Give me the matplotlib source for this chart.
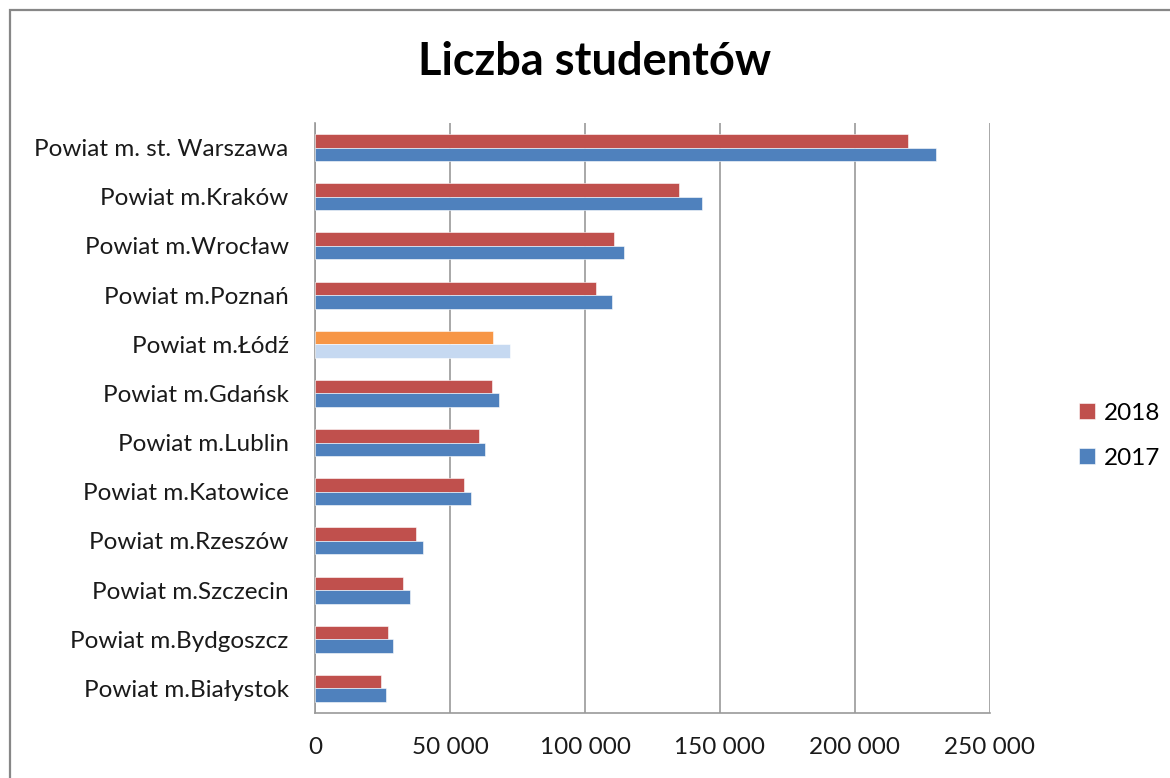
#!/usr/bin/python3
#
# Liczba studentow - horizontal bar chart, 2017 vs 2018
#

import matplotlib.pyplot as plt
import matplotlib.patches as patches
import numpy

plt.rcParams['font.family'] = ['Lato', 'DejaVu Sans']

# data (top to bottom as in the picture)
cities = ['Powiat m. st. Warszawa', 'Powiat m.Kraków', 'Powiat m.Wrocław',
          'Powiat m.Poznań', 'Powiat m.Łódź', 'Powiat m.Gdańsk',
          'Powiat m.Lublin', 'Powiat m.Katowice', 'Powiat m.Rzeszów',
          'Powiat m.Szczecin', 'Powiat m.Bydgoszcz', 'Powiat m.Białystok']
students_2018 = [219500, 134800, 110700, 104000, 66000, 65600,
                 60700, 55200, 37400, 32600, 26900, 24600]
students_2017 = [230100, 143300, 114400, 110000, 72200, 68300,
                 63000, 57800, 40000, 35200, 28900, 26400]
xticks = [0, 50000, 100000, 150000, 200000, 250000]
highlight = 'Powiat m.Łódź'

# colours
red, blue = '#C0504D', '#4F81BD'
orange, lightblue = '#F79646', '#C6D9F1'
grid_col = '#9A9A9A'
text_col = '#1a1a1a'

fig = plt.figure(figsize=(11.7, 7.78), dpi=100)
ax = fig.add_axes([315 / 1170, 65 / 778, 675 / 1170, 590 / 778])

# outer chart frame (cropped at right/bottom)
frame = patches.Rectangle((10 / 1170, -0.1), 1.2, 1 - 10 / 778 + 0.1,
                          transform=fig.transFigure, fill=False,
                          edgecolor='#878787', linewidth=1.6, zorder=0)
fig.patches.append(frame)

y = numpy.arange(len(cities))
h = 0.275
c18 = [orange if c == highlight else red for c in cities]
c17 = [lightblue if c == highlight else blue for c in cities]

ax.barh(y - h / 2, students_2018, height=h, color=c18, label='2018',
        edgecolor='white', linewidth=0.4, zorder=3)
ax.barh(y + h / 2, students_2017, height=h, color=c17, label='2017',
        edgecolor='white', linewidth=0.4, zorder=3)

ax.set_ylim(len(cities) - 0.5, -0.5)
ax.set_xlim(0, 250000)
ax.set_yticks(y)
ax.set_yticklabels(cities, fontsize=17.5, color=text_col)
ax.set_xticks(xticks)
ax.set_xticklabels(['0' if v == 0 else f'{v:,}'.replace(',', ' ') for v in xticks],
                   fontsize=17.5, color=text_col)
ax.tick_params(axis='y', length=0, pad=19)
ax.tick_params(axis='x', length=0, pad=17)

# grid and spines
ax.grid(axis='x', color=grid_col, linewidth=1.2, zorder=0)
for s in ['top', 'right']:
    ax.spines[s].set_visible(False)
for s in ['left', 'bottom']:
    ax.spines[s].set_color(grid_col)
    ax.spines[s].set_linewidth(1.2)

# title
fig.text(595 / 1170, 1 - 62 / 778, 'Liczba studentów', fontsize=32.5,
         fontweight='bold', ha='center', va='center')

# legend
leg = ax.legend(loc='center left', bbox_to_anchor=(1.1, 0.47), frameon=False,
                fontsize=17.5, handlelength=0.65, handleheight=0.65,
                handletextpad=0.35, labelspacing=1.0)

plt.savefig('out.png', dpi=100)
